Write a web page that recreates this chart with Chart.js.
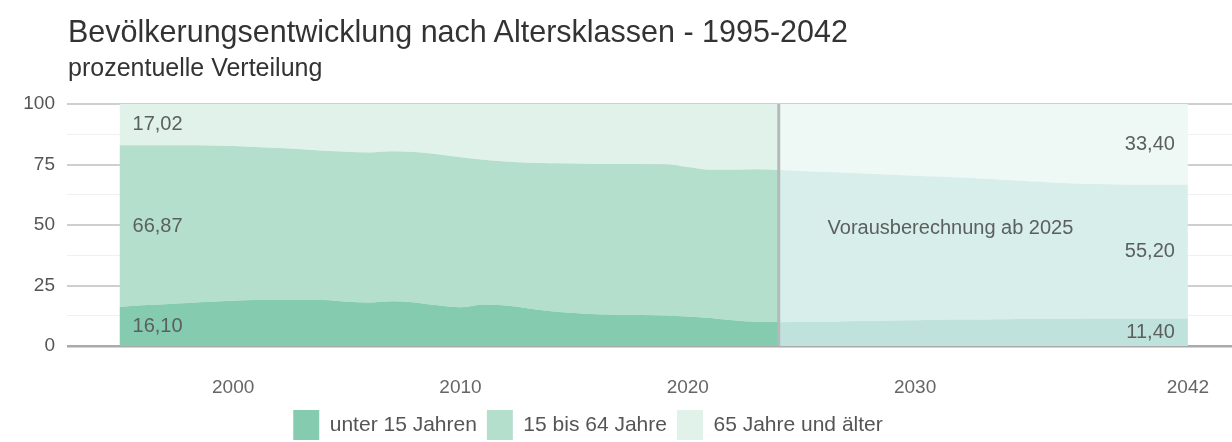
<!DOCTYPE html>
<html lang="de">
<head>
<meta charset="utf-8">
<title>Bevölkerungsentwicklung nach Altersklassen</title>
<script src="https://cdn.jsdelivr.net/npm/chart.js@4.4.1/dist/chart.umd.min.js"></script>
<style>
  html, body { margin: 0; padding: 0; background: #fff; }
  #wrap { position: relative; width: 1232px; height: 442px; font-family: "Liberation Sans", Arial, sans-serif; }
  #title { position: absolute; left: 68px; top: 16px; font-size: 30.5px; line-height: 30px; color: #333; white-space: nowrap; }
  #subtitle { position: absolute; left: 68px; top: 55px; font-size: 25px; line-height: 25px; color: #333; white-space: nowrap; }
  #chart { position: absolute; left: 0; top: 0; }
</style>
</head>
<body>
<div id="wrap">
  <canvas id="chart" width="1232" height="442"></canvas>
  <div id="title">Bevölkerungsentwicklung nach Altersklassen - 1995-2042</div>
  <div id="subtitle">prozentuelle Verteilung</div>
</div>
<script>
// Bestand 1995-2024
const histYears = [1995, 1996, 1997, 1998, 1999, 2000, 2001, 2002, 2003, 2004,
                   2005, 2006, 2007, 2008, 2009, 2010, 2011, 2012, 2013, 2014,
                   2015, 2016, 2017, 2018, 2019, 2020, 2021, 2022, 2023, 2024];
const histUnder15 = [16.10, 16.8, 17.3, 17.8, 18.3, 18.7, 19.0, 19.0, 19.0, 19.0,
                     18.3, 18.0, 18.5, 18.0, 16.8, 16.0, 17.2, 16.7, 15.5, 14.4,
                     13.6, 13.1, 12.9, 12.8, 12.6, 12.2, 11.6, 10.6, 10.0, 10.0];
const hist15to64 = [66.87, 66.2, 65.7, 65.2, 64.6, 63.9, 63.2, 62.8, 62.3, 61.7,
                    62.0, 62.0, 62.0, 62.2, 62.4, 62.0, 59.8, 59.5, 60.2, 61.1,
                    61.8, 62.1, 62.3, 62.3, 62.4, 61.8, 61.2, 62.2, 63.0, 62.7];
const hist65plus = [17.02, 17.0, 17.0, 17.0, 17.1, 17.4, 17.8, 18.2, 18.7, 19.3,
                    19.7, 20.0, 19.5, 19.8, 20.8, 22.0, 23.0, 23.8, 24.3, 24.5,
                    24.6, 24.8, 24.8, 24.9, 25.0, 26.0, 27.2, 27.2, 27.0, 27.3];

// Vorausberechnung 2024-2042
const projYears = [2024, 2025, 2026, 2027, 2028, 2029, 2030, 2031, 2032, 2033,
                   2034, 2035, 2036, 2037, 2038, 2039, 2040, 2041, 2042];
const projUnder15 = [9.8, 9.9, 10.0, 10.2, 10.3, 10.5, 10.6, 10.8, 10.9, 11.0,
                     11.1, 11.2, 11.3, 11.3, 11.4, 11.4, 11.4, 11.4, 11.40];
const proj15to64 = [62.9, 62.4, 61.9, 61.4, 60.9, 60.3, 59.8, 59.2, 58.7, 58.1,
                    57.5, 56.9, 56.3, 55.9, 55.5, 55.3, 55.2, 55.2, 55.20];
const proj65plus = [27.3, 27.7, 28.1, 28.4, 28.8, 29.2, 29.6, 30.0, 30.4, 30.9,
                    31.4, 31.9, 32.4, 32.8, 33.1, 33.3, 33.4, 33.4, 33.40];

const seriesNames = ['unter 15 Jahren', '15 bis 64 Jahre', '65 Jahre und älter'];
const xTickYears = [2000, 2010, 2020, 2030, 2042];
const yTickLabels = [0, 25, 50, 75, 100];
const projectionYear = 2024;
const projectionNote = 'Vorausberechnung ab 2025';

const histColors = ['#84cbb0', '#b4dfcd', '#e1f2eb'];
const projColors = ['#c0e2dd', '#d7eeea', '#eef8f5'];
const FONT = '"Liberation Sans", Arial, sans-serif';

Chart.defaults.font.family = FONT;

const toPoints = (years, values) => years.map((year, i) => ({ x: year, y: values[i] }));

function area(label, years, values, color, fill, stack) {
    return {
        label: label,
        data: toPoints(years, values),
        backgroundColor: color,
        borderColor: 'transparent',
        borderWidth: 0,
        pointRadius: 0,
        pointHoverRadius: 0,
        cubicInterpolationMode: 'monotone',
        fill: fill,
        stack: stack
    };
}

const fmt = v => v.toFixed(2).replace('.', ',');

// Legende etwas nach links verschieben, wie im Original
const legendShift = {
    id: 'legendShift',
    afterLayout(chart) {
        const lg = chart.legend;
        if (!lg) return;
        lg.left -= 28; lg.right -= 28;
    }
};

// Werte am Anfang und Ende, Trennlinie und Hinweis
const annotations = {
    id: 'annotations',
    afterDraw(chart) {
        const { ctx, scales: { x, y } } = chart;
        ctx.save();

        // Trennlinie Bestand / Vorausberechnung
        const px = x.getPixelForValue(projectionYear);
        ctx.strokeStyle = '#b3bab7';
        ctx.lineWidth = 3;
        ctx.beginPath();
        ctx.moveTo(px, y.getPixelForValue(100));
        ctx.lineTo(px, y.getPixelForValue(0));
        ctx.stroke();

        ctx.font = '20px ' + FONT;
        ctx.fillStyle = '#5b5f5d';
        ctx.textBaseline = 'middle';

        const first = [histUnder15[0], hist15to64[0], hist65plus[0]];
        const n = projYears.length - 1;
        const last = [projUnder15[n], proj15to64[n], proj65plus[n]];

        let base = 0;
        ctx.textAlign = 'left';
        first.forEach(v => {
            ctx.fillText(fmt(v), x.getPixelForValue(histYears[0]) + 13, y.getPixelForValue(base + v / 2));
            base += v;
        });
        base = 0;
        ctx.textAlign = 'right';
        last.forEach(v => {
            ctx.fillText(fmt(v), x.getPixelForValue(projYears[n]) - 13, y.getPixelForValue(base + v / 2));
            base += v;
        });

        ctx.textAlign = 'left';
        ctx.fillText(projectionNote, x.getPixelForValue(2026.15), y.getPixelForValue(48.6));
        ctx.restore();
    }
};

new Chart(document.getElementById('chart'), {
    type: 'line',
    data: {
        datasets: [
            area(seriesNames[0], histYears, histUnder15, histColors[0], 'origin', 'hist'),
            area(seriesNames[1], histYears, hist15to64, histColors[1], '-1', 'hist'),
            area(seriesNames[2], histYears, hist65plus, histColors[2], '-1', 'hist'),
            area(seriesNames[0] + ' (Vorausberechnung)', projYears, projUnder15, projColors[0], 'origin', 'proj'),
            area(seriesNames[1] + ' (Vorausberechnung)', projYears, proj15to64, projColors[1], '-1', 'proj'),
            area(seriesNames[2] + ' (Vorausberechnung)', projYears, proj65plus, projColors[2], '-1', 'proj')
        ]
    },
    options: {
        responsive: false,
        animation: false,
        layout: { padding: { top: 104, left: 0, right: 0, bottom: -8 } },
        scales: {
            x: {
                type: 'linear',
                min: 1992.69,
                max: 2043.94,
                grid: { display: false },
                border: { display: false },
                afterBuildTicks: axis => { axis.ticks = xTickYears.map(v => ({ value: v })); },
                afterFit: s => { s.height = 54; },
                ticks: {
                    autoSkip: false,
                    maxRotation: 0,
                    padding: 22,
                    color: '#666',
                    font: { size: 19 },
                    callback: v => String(v)
                }
            },
            y: {
                stacked: true,
                min: 0,
                max: 100,
                z: 1,
                afterFit: s => { s.width = 67; },
                border: { display: false },
                grid: {
                    drawTicks: false,
                    color: c => c.tick.value === 0 ? '#a9aaa9'
                        : (c.tick.value % 25 === 0 ? 'rgba(110,110,110,0.33)' : 'rgba(205,205,205,0.3)'),
                    lineWidth: c => c.tick.value === 0 ? 2.5 : (c.tick.value % 25 === 0 ? 2 : 1)
                },
                ticks: {
                    stepSize: 12.5,
                    padding: 12,
                    color: '#555',
                    font: { size: 19 },
                    callback: v => yTickLabels.includes(v) ? String(v) : ''
                }
            }
        },
        plugins: {
            title: { display: false },
            tooltip: { enabled: false },
            legend: {
                position: 'bottom',
                labels: {
                    boxWidth: 26,
                    boxHeight: 30,
                    padding: 10,
                    color: '#555',
                    font: { size: 21 },
                    filter: item => item.datasetIndex < 3
                }
            }
        }
    },
    plugins: [legendShift, annotations]
});
</script>
</body>
</html>
